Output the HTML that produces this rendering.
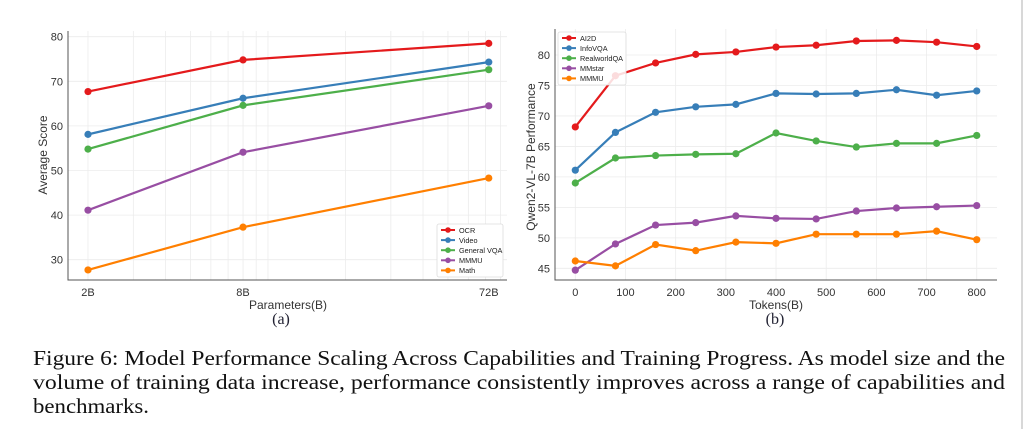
<!DOCTYPE html>
<html><head><meta charset="utf-8"><style>
body{margin:0;background:#fff;width:1034px;height:429px;overflow:hidden}
svg{display:block}
text{font-family:"Liberation Sans",sans-serif}
</style></head><body>
<svg id="s" width="1034" height="429">
<line x1="1022" y1="0" x2="1022" y2="429" stroke="#ccc" stroke-width="1.5"/>
<g id="ga"></g>
<g id="gb"></g>
<g font-size="21" fill="#111">
<text x="33" y="365" textLength="972" lengthAdjust="spacingAndGlyphs" style="font-family:'Liberation Serif',serif">Figure 6: Model Performance Scaling Across Capabilities and Training Progress.  As model size and the</text>
<text x="33" y="389" textLength="972" lengthAdjust="spacingAndGlyphs" style="font-family:'Liberation Serif',serif">volume of training data increase, performance consistently improves across a range of capabilities and</text>
<text x="33" y="413" textLength="116" lengthAdjust="spacingAndGlyphs" style="font-family:'Liberation Serif',serif">benchmarks.</text>
</g>
</svg>
<script>
const colors=['#e41a1c','#377eb8','#4daf4a','#984ea3','#ff7f00'];
// Chart A
const aCats=[2,8,72];
const aTickLabels=['2B','8B','72B'];
const aNames=['OCR','Video','General VQA','MMMU','Math'];
const aOCR=[67.7,74.8,78.5];
const aVideo=[58.1,66.2,74.3];
const aGVQA=[54.8,64.6,72.6];
const aMMMU=[41.1,54.1,64.5];
const aMath=[27.7,37.3,48.3];
const aYTicks=[30,40,50,60,70,80];
// Chart B
const bX=[0,80,160,240,320,400,480,560,640,720,800];
const bXTicks=[0,100,200,300,400,500,600,700,800];
const bYTicks=[45,50,55,60,65,70,75,80];
const bNames=['AI2D','InfoVQA','RealworldQA','MMstar','MMMU'];
const bAI2D=[68.2,76.6,78.7,80.1,80.5,81.3,81.6,82.3,82.4,82.1,81.4];
const bInfo=[61.1,67.3,70.6,71.5,71.9,73.7,73.6,73.7,74.3,73.4,74.1];
const bReal=[59.0,63.1,63.5,63.7,63.8,67.2,65.9,64.9,65.5,65.5,66.8];
const bMMstar=[44.7,49.0,52.1,52.5,53.6,53.2,53.1,54.4,54.9,55.1,55.3];
const bMMMU=[46.2,45.4,48.9,47.9,49.3,49.1,50.6,50.6,50.6,51.1,49.7];

const NS='http://www.w3.org/2000/svg';
function mk(p,tag,at,txt){const e=document.createElementNS(NS,tag);for(const k in at)e.setAttribute(k,at[k]);if(txt!==undefined)e.textContent=txt;p.appendChild(e);return e;}

// --- A ---
const ga=document.getElementById('ga');
const aL=68,aR=507,aT=31,aB=280;
const ax=v=>88+(Math.log10(v)-Math.log10(2))*257.5;
const ay=v=>36.7+(80-v)*4.46;
for(let d=1;d<=100;d*=10)for(let m=1;m<10;m++){const v=d*m;const x=ax(v);if(x>aL&&x<aR){const g=mk(ga,'line',{x1:x,x2:x,y1:aT,y2:aB,stroke:'#ececec','stroke-width':0.8});}}
aYTicks.forEach(t=>{const y=ay(t);const g=mk(ga,'line',{x1:aL,x2:aR,y1:y,y2:y,stroke:'#ececec','stroke-width':0.8});
const l=mk(ga,'text',{x:aL-5,y:y+4,'text-anchor':'end','font-size':11,fill:'#333'},t);});
aCats.forEach((c,i)=>{const l=mk(ga,'text',{x:ax(c),y:296,'text-anchor':'middle','font-size':11,fill:'#333'},aTickLabels[i]);});
mk(ga,'path',{d:`M${aL},${aT}V${aB}H${aR}`,fill:'none',stroke:'#555','stroke-width':1});
let t=mk(ga,'text',{x:288,y:309,'text-anchor':'middle','font-size':12,fill:'#333'},'Parameters(B)');
t=mk(ga,'text',{x:47,y:155,'text-anchor':'middle','font-size':12,fill:'#333',transform:'rotate(-90 47 155)'},'Average Score');
t=mk(ga,'text',{x:281,y:324,'text-anchor':'middle','font-size':16,fill:'#223','style':"font-family:'Liberation Serif',serif"},'(a)');
[aOCR,aVideo,aGVQA,aMMMU,aMath].forEach((s,k)=>{
 const p=mk(ga,'polyline',{points:s.map((v,i)=>ax(aCats[i])+','+ay(v)).join(' '),fill:'none',stroke:colors[k],'stroke-width':2.2});
 
 s.forEach((v,i)=>{const c=mk(ga,'circle',{cx:ax(aCats[i]),cy:ay(v),r:3.6,fill:colors[k]});});
});
let lg=mk(ga,'g',{});
mk(lg,'rect',{x:437,y:224,width:66,height:53,fill:'#fff',stroke:'#ddd','stroke-width':0.8,rx:2});
aNames.forEach((n,k)=>{const y=230+k*10.1;mk(lg,'line',{x1:441,x2:455,y1:y,y2:y,stroke:colors[k],'stroke-width':2});mk(lg,'circle',{cx:448,cy:y,r:2.8,fill:colors[k]});
 const e=mk(lg,'text',{x:459,y:y+2.8,'font-size':7.3,fill:'#222'},n);});

// --- B ---
const gb=document.getElementById('gb');
const bL=555,bR=997,bT=29,bB=280;
const bx=v=>575.3+v*0.5018;
const by=v=>55+(80-v)*6.095;
bXTicks.forEach(v=>{const x=bx(v);const g=mk(gb,'line',{x1:x,x2:x,y1:bT,y2:bB,stroke:'#ececec','stroke-width':0.8});
 const l=mk(gb,'text',{x:x,y:296,'text-anchor':'middle','font-size':11,fill:'#333'},v);});
bYTicks.forEach(v=>{const y=by(v);const g=mk(gb,'line',{x1:bL,x2:bR,y1:y,y2:y,stroke:'#ececec','stroke-width':0.8});
 const l=mk(gb,'text',{x:bL-5,y:y+4,'text-anchor':'end','font-size':11,fill:'#333'},v);});
mk(gb,'path',{d:`M${bL},${bT}V${bB}H${bR}`,fill:'none',stroke:'#555','stroke-width':1});
t=mk(gb,'text',{x:776,y:309,'text-anchor':'middle','font-size':12,fill:'#333'},'Tokens(B)');
t=mk(gb,'text',{x:535,y:157,'text-anchor':'middle','font-size':12,fill:'#333',transform:'rotate(-90 535 157)'},'Qwen2-VL-7B Performance');
t=mk(gb,'text',{x:775,y:324,'text-anchor':'middle','font-size':16,fill:'#223','style':"font-family:'Liberation Serif',serif"},'(b)');
[bAI2D,bInfo,bReal,bMMstar,bMMMU].forEach((s,k)=>{
 const p=mk(gb,'polyline',{points:s.map((v,i)=>bx(bX[i])+','+by(v)).join(' '),fill:'none',stroke:colors[k],'stroke-width':2.2});
 
 s.forEach((v,i)=>{const c=mk(gb,'circle',{cx:bx(bX[i]),cy:by(v),r:3.6,fill:colors[k]});});
});
lg=mk(gb,'g',{});
mk(lg,'rect',{x:558,y:32,width:68,height:53,fill:'#fff','fill-opacity':0.85,stroke:'#ddd','stroke-width':0.8,rx:2});
bNames.forEach((n,k)=>{const y=38+k*10.1;mk(lg,'line',{x1:562,x2:576,y1:y,y2:y,stroke:colors[k],'stroke-width':2});mk(lg,'circle',{cx:569,cy:y,r:2.8,fill:colors[k]});
 const e=mk(lg,'text',{x:580,y:y+2.8,'font-size':7.3,fill:'#222'},n);});
</script>
</body></html>
